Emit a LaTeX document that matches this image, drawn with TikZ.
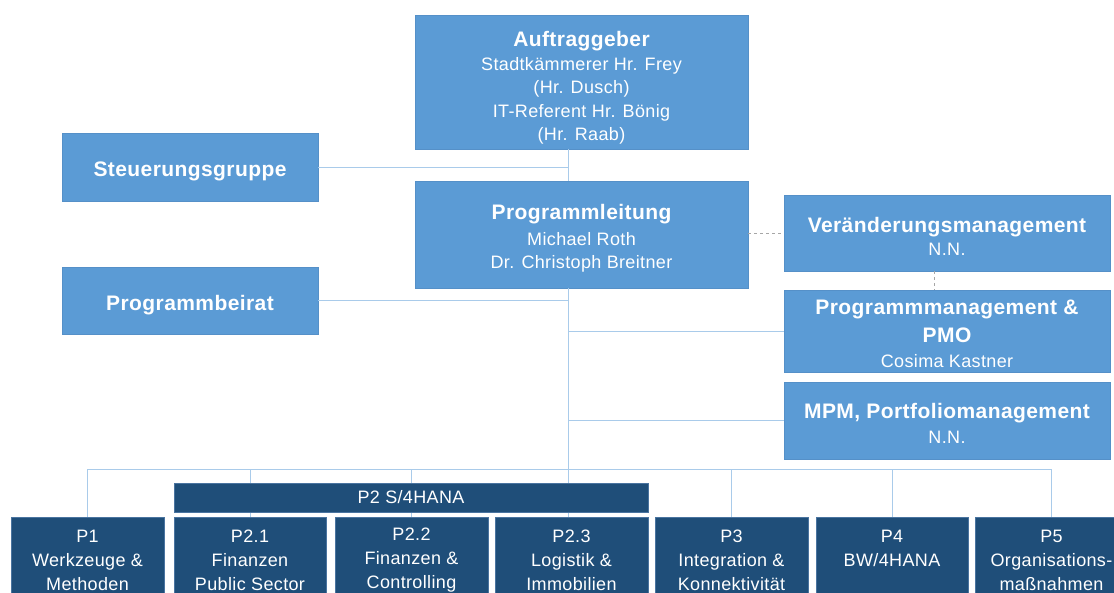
\documentclass[tikz,border=0pt]{standalone}
\usepackage{fontspec}
\setmainfont{Liberation Sans}[LetterSpace=2]
\definecolor{lb}{HTML}{5B9BD5}
\definecolor{lbb}{HTML}{5590C8}
\definecolor{db}{HTML}{1F4E79}
\definecolor{dbb}{HTML}{4A74A0}
\definecolor{linec}{HTML}{A9CBEA}
\definecolor{dashc}{HTML}{A6A6A6}
\begin{document}
\begin{tikzpicture}[x=1pt,y=-1pt,
  lightbox/.style={draw=lbb, fill=lb, line width=0.6pt, inner sep=0pt, text=white, align=center,
    font=\fontsize{18}{23.5}\selectfont},
  darkbox/.style={draw=dbb, fill=db, line width=0.6pt, inner sep=0pt, text=white, align=center,
    font=\fontsize{18}{24}\selectfont},
  link/.style={draw=linec, line width=0.8pt},
  dashline/.style={draw=dashc, line width=0.6pt, dash pattern=on 3pt off 3pt}]
\newcommand{\ttlfont}{\fontsize{21}{24}\selectfont\bfseries}
\newcommand{\dn}[1]{\rule{0pt}{#1}}
\useasboundingbox (0,0) rectangle (1114,593);
\clip (0,0) rectangle (1114,593);

\coordinate (trunk) at (568,469);
\node[lightbox, minimum width=333, minimum height=134] (auf) at (581.5,82)
  {\dn{27pt}{\ttlfont Auftraggeber}\\Stadtkämmerer Hr. Frey\\(Hr. Dusch)\\IT-Referent Hr. Bönig\\(Hr. Raab)};
\node[lightbox, minimum width=256, minimum height=68] (sg) at (190,167)
  {\dn{23pt}\ttlfont Steuerungsgruppe};
\node[lightbox, minimum width=333, minimum height=107] (pl) at (581.5,234.5)
  {\dn{23pt}{\ttlfont Programmleitung}\\[2pt]Michael Roth\\Dr. Christoph Breitner};
\node[lightbox, minimum width=256, minimum height=67] (pb) at (190,300.5)
  {\dn{24pt}\ttlfont Programmbeirat};
\node[lightbox, minimum width=326, minimum height=76] (vm) at (947,233)
  {\dn{22pt}{\ttlfont Veränderungsmanagement}\\N.N.};
\node[lightbox, minimum width=326, minimum height=82] (pmo) at (947,331)
  {\dn{21pt}{\ttlfont Programmmanagement \&}\\[4pt]{\ttlfont PMO}\\[2pt]Cosima Kastner};
\node[lightbox, minimum width=326, minimum height=77] (mpm) at (947,420.5)
  {\dn{21pt}{\ttlfont MPM, Portfoliomanagement}\\[2pt]N.N.};

\node[darkbox, minimum width=153, minimum height=86] (p1) at (87.5,560)
  {P1\\Werkzeuge \&\\Methoden};
\node[darkbox, minimum width=152, minimum height=86] (p21) at (250,560)
  {P2.1\\Finanzen\\Public Sector};
\node[darkbox, minimum width=153, minimum height=86] (p22) at (411.5,560)
  {P2.2\\Finanzen \&\\Controlling};
\node[darkbox, minimum width=153, minimum height=86] (p23) at (571.5,560)
  {P2.3\\Logistik \&\\Immobilien};
\node[darkbox, minimum width=153, minimum height=86] (p3) at (731.5,560)
  {P3\\Integration \&\\Konnektivität};
\node[darkbox, minimum width=152, minimum height=86] (p4) at (892,560)
  {P4\\BW/4HANA\\\mbox{}};
\node[darkbox, minimum width=153, minimum height=86] (p5) at (1051.5,560)
  {P5\\Organisations-\\maßnahmen};

\draw[link] (auf.south -| trunk) -- (pl.north -| trunk);
\draw[link] (pl.south -| trunk) -- (trunk);
\draw[link] (sg.east) -- (sg.east -| trunk);
\draw[link] (pb.east) -- (pb.east -| trunk);
\draw[link] (pmo.west) -- (pmo.west -| trunk);
\draw[link] (mpm.west) -- (mpm.west -| trunk);
\draw[link] (p1.north |- trunk) -- (p5.north |- trunk);
\draw[link] (p1.north |- trunk) -- (p1.north);
\draw[link] (p21.north |- trunk) -- (p21.north);
\draw[link] (p22.north |- trunk) -- (p22.north);
\draw[link] (trunk) -- (trunk |- p23.north);
\draw[link] (p3.north |- trunk) -- (p3.north);
\draw[link] (p4.north |- trunk) -- (p4.north);
\draw[link] (p5.north |- trunk) -- (p5.north);
\draw[dashline] (vm.west -| pl.east) -- (vm.west);
\draw[dashline] ([xshift=-13pt]vm.south) -- ([xshift=-13pt]vm.south |- pmo.north);

\node[darkbox, minimum width=474, minimum height=29] (p2) at (411,497.5) {P2 S/4HANA};
\end{tikzpicture}
\end{document}
